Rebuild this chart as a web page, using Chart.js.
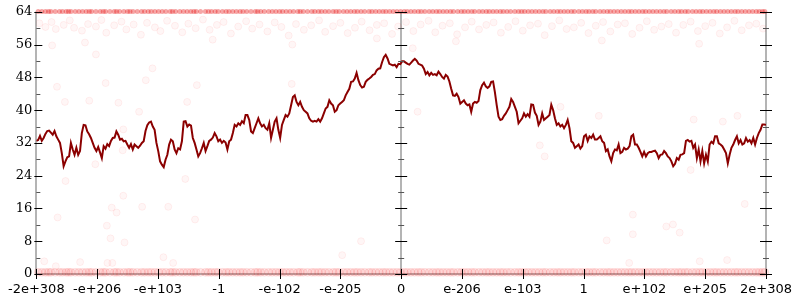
<!DOCTYPE html>
<html>
<head>
<meta charset="utf-8">
<script src="https://cdn.jsdelivr.net/npm/chart.js@4/dist/chart.umd.min.js"></script>
<style>
  html, body { margin: 0; padding: 0; background: #fff; }
  canvas { display: block; }
</style>
</head>
<body>
<canvas id="chart" width="800" height="300"></canvas>
<script>
// tick labels along the bottom, one per axis unit from -6 to 6
const xTickLabels = ["-2e+308", "-e+206", "-e+103", "-1", "-e-102", "-e-205", "0",
  "e-206", "e-103", "1", "e+102", "e+205", "2e+308"]
const yMin = 0
const yMax = 64
const yStep = 8

// the dark red trace, read left to right, evenly spaced over the axis
const lineValues = [
  32.5, 32.7, 33.7, 32.5, 33.2, 34.2, 34.9, 35.0, 34.5, 34.0, 34.9, 33.6, 32.8, 32.0, 29.5, 26.3,
  27.5, 28.5, 28.7, 32.0, 30.4, 29.1, 30.8, 29.1, 30.0, 34.4, 36.4, 36.3, 34.8, 34.1, 33.2, 32.0,
  30.8, 30.0, 31.0, 29.7, 28.3, 31.2, 30.6, 31.7, 31.2, 32.5, 33.2, 33.3, 34.8, 34.0, 32.8, 33.0,
  32.4, 32.5, 31.6, 30.8, 31.7, 30.4, 31.6, 31.2, 30.8, 31.3, 32.0, 32.4, 34.9, 36.3, 37.0, 37.2,
  36.0, 35.2, 32.0,
  30.0, 27.5, 26.7, 26.1, 27.9, 29.1, 31.6, 32.8, 32.4, 30.4, 29.5, 30.7, 30.4, 32.4, 37.2, 37.3,
  36.0, 36.5, 36.2, 33.2, 32.0, 30.4, 28.7, 29.5, 30.7, 32.0, 30.0, 31.2, 32.5, 32.8, 33.3, 34.4,
  33.6, 32.4, 32.8, 32.0, 32.5, 32.1, 30.4, 32.4, 32.8, 34.4, 36.4, 36.0, 36.8, 36.4, 37.3, 36.8,
  38.8, 38.8, 37.6, 34.8, 34.4, 35.6, 36.8, 38.0, 36.8, 36.0, 36.4, 35.6, 35.2, 36.8, 33.2, 35.2,
  37.2, 38.0, 35.2, 33.2, 36.4, 37.6, 38.8,
  38.4, 39.2, 41.2, 43.2, 43.6, 42.0, 41.2, 42.0, 40.8, 40.0, 39.6, 39.2, 38.0, 37.4, 37.2, 37.4,
  37.2, 37.8, 37.2, 38.0, 39.2, 40.4, 40.8, 42.4, 41.6, 41.2, 39.6, 40.0, 41.2, 41.6, 42.0, 42.4,
  43.6, 44.4, 45.2, 46.9, 47.0, 47.7, 49.1, 47.3, 46.1, 45.5, 45.7, 46.9, 47.4, 47.7, 48.1, 48.6,
  48.8, 49.7, 50.1, 50.2, 51.7, 52.9, 53.5, 52.6, 51.3, 51.1, 50.9, 51.1, 50.5, 51.3,
  51.2, 51.9, 51.9, 51.6, 51.3, 51.1, 51.6, 52.1, 52.5, 52.1, 51.3, 51.1, 50.9, 50.1, 48.8, 49.3,
  48.5, 49.1, 48.6, 48.8, 48.5, 49.4, 48.8, 48.1, 47.7, 48.6, 48.2, 47.0, 45.2, 43.6, 43.5, 44.0,
  43.2, 41.6, 42.0, 42.4, 41.6, 41.2, 41.4, 39.6, 41.6, 42.0, 41.8, 42.2, 44.9, 46.1, 46.7, 45.8,
  45.4, 45.8, 46.9, 47.0, 44.4, 41.2, 38.4, 37.6, 37.8, 38.6, 39.2, 40.0, 40.8, 42.7, 42.0, 40.8,
  39.6, 36.8, 37.4, 38.0, 39.2, 38.4,
  39.0, 38.4, 41.4, 41.3, 39.4, 38.6, 36.4, 37.2, 39.2, 37.6, 38.0, 38.4, 38.8, 41.3, 40.0, 38.0,
  36.4, 36.8, 36.0, 36.4, 35.6, 36.4, 37.6, 35.6, 32.4, 32.0, 30.8, 31.2, 31.6, 30.6, 31.2, 33.6,
  34.0, 32.5, 33.6, 33.2, 34.0, 32.8, 32.8, 33.2, 33.6, 32.4, 32.0, 30.0, 30.4, 28.7, 27.5, 29.5,
  30.4, 30.2, 31.6, 29.5, 29.8, 30.8, 30.4, 30.6, 31.2, 33.6, 34.0, 31.6, 31.6, 30.8, 29.8, 28.7,
  29.8, 28.7, 29.5, 29.8, 29.8,
  30.0, 30.1, 29.5, 28.3, 29.1, 29.2, 30.0, 29.5, 28.7, 28.3, 27.5, 26.3, 26.9, 28.3, 27.9, 29.1,
  29.2, 29.5, 32.5, 32.7, 32.3, 32.5, 30.8, 31.6, 28.3, 30.4, 27.5, 30.0, 27.0, 29.1, 27.5, 31.6,
  32.3, 31.9, 33.6, 33.6, 31.9, 31.6, 31.2, 30.4, 29.5, 27.0, 29.1, 30.8, 31.6, 32.7, 33.6, 31.9,
  32.7, 31.6, 31.9, 33.2, 32.3, 32.7, 31.9, 33.2, 31.6, 33.2, 34.4, 35.2, 36.5, 36.5, 36.4
]

// faint outlier dots: packed rows at the top and bottom edges...
const edgeX = [
  -5.97, -5.85, -5.76, -5.62, -5.51, -5.43, -5.30, -5.18, -5.09, -4.95, -4.86, -4.72, -4.63, -4.50,
  -4.41, -4.27, -4.16, -4.05, -3.93, -3.80, -3.71, -3.58, -3.46, -3.37, -3.22, -3.12, -3.01, -2.88,
  -2.77, -2.65, -2.54, -2.40, -2.31, -2.18, -2.06, -1.95, -1.83, -1.70, -1.61, -1.47, -1.36, -1.25,
  -1.12, -1.02, -0.89, -0.77, -0.66, -0.53, -0.42, -0.30, -0.19, -0.07, 0.05, 0.16, 0.28, 0.39,
  0.52, 0.63, 0.75, 0.86, 0.99, 1.10, 1.21, 1.34, 1.45, 1.57, 1.68, 1.80, 1.93, 2.03, 2.15, 2.27,
  2.38, 2.51, 2.62, 2.74, 2.85, 2.98, 3.09, 3.20, 3.33, 3.44, 3.56, 3.68, 3.79, 3.91, 4.02, 4.14,
  4.26, 4.37, 4.50, 4.61, 4.72, 4.85, 4.96, 5.08, 5.19, 5.31, 5.43, 5.54, 5.66, 5.78, 5.89, 5.98,
  -5.91, -5.80, -5.69, -5.57, -5.47, -5.36, -5.24, -5.13, -5.02, -4.90, -4.79, -4.68, -4.56, -4.46,
  -4.34, -4.22, -4.11, -3.99, -3.87, -3.76, -3.64, -3.52, -3.41, -3.30, -3.17, -3.06, -2.94, -2.83,
  -2.71, -2.60, -2.47, -2.36, -2.25, -2.12, -2.00, -1.89, -1.77, -1.66, -1.54, -1.42, -1.31, -1.19,
  -1.07, -0.95, -0.83, -0.72, -0.60, -0.48, -0.36, -0.25, -0.13, -0.01, 0.10, 0.22, 0.33, 0.46,
  0.58, 0.69, 0.81, 0.93, 1.04, 1.16, 1.28, 1.40, 1.51, 1.63, 1.74, 1.87, 1.98, 2.09, 2.21, 2.33,
  2.45, 2.57, 2.68, 2.80, 2.92, 3.04, 3.15, 3.27, 3.39, 3.50, 3.62, 3.74, 3.85, 3.97, 4.08, 4.20,
  4.32, 4.44, 4.56, 4.67, 4.79, 4.91, 5.02, 5.14, 5.25, 5.37, 5.49, 5.60, 5.72, 5.84, 5.94
]
const topEdgeY = 64.1
const bottomEdgeY = 0.4

// ...a loose band just under the top...
const bandDots = [
  [-5.95, 61.2], [-5.85, 60.3], [-5.75, 61.5], [-5.68, 59.8], [-5.55, 60.8], [-5.45, 61.9], [-5.38, 60.1],
  [-5.25, 59.4], [-5.15, 61.0], [-5.02, 60.4], [-4.93, 62.0], [-4.85, 58.9], [-4.72, 60.7], [-4.60, 61.6],
  [-4.52, 59.7], [-4.40, 60.9], [-4.28, 58.4], [-4.18, 61.3], [-4.05, 60.2], [-3.96, 59.3], [-3.85, 61.8],
  [-3.72, 60.6], [-3.60, 59.0], [-3.50, 61.1], [-3.38, 60.0], [-3.26, 62.1], [-3.15, 59.6], [-3.03, 60.8],
  [-2.92, 61.5], [-2.80, 58.7], [-2.68, 60.4], [-2.55, 61.7], [-2.45, 59.9], [-2.33, 60.9], [-2.20, 59.2],
  [-2.08, 61.4], [-1.97, 60.3], [-1.85, 58.2], [-1.73, 61.0], [-1.60, 59.6], [-1.48, 60.7], [-1.35, 61.9],
  [-1.25, 59.1], [-1.12, 60.5], [-1.00, 61.3], [-0.88, 58.8], [-0.76, 60.1], [-0.65, 61.6], [-0.52, 59.5],
  [-0.40, 60.8], [-0.28, 61.2], [-0.15, 58.6], [-0.05, 60.4], [0.08, 61.5], [0.20, 59.3], [0.32, 60.9],
  [0.45, 61.8], [0.56, 59.0], [0.68, 60.6], [0.80, 61.2], [0.92, 58.5], [1.05, 60.2], [1.16, 61.6],
  [1.28, 59.7], [1.40, 60.8], [1.52, 61.4], [1.64, 58.9], [1.76, 60.3], [1.88, 61.7], [2.00, 59.4],
  [2.12, 60.7], [2.25, 61.1], [2.36, 58.3], [2.48, 60.5], [2.60, 61.9], [2.72, 59.8], [2.84, 60.2],
  [2.96, 61.3], [3.08, 58.8], [3.20, 60.6], [3.32, 61.5], [3.44, 59.2], [3.56, 60.9], [3.68, 61.2],
  [3.80, 58.6], [3.92, 60.1], [4.04, 61.7], [4.16, 59.6], [4.28, 60.4], [4.40, 61.0], [4.52, 58.9],
  [4.64, 60.8], [4.76, 61.6], [4.88, 59.3], [5.00, 60.5], [5.12, 61.3], [5.24, 58.7], [5.36, 60.2],
  [5.48, 61.8], [5.60, 59.5], [5.72, 60.7], [5.84, 61.1], [5.95, 59.9]
]

// ...and a sprinkling in between
const strayDots = [
  [-5.74, 55.8], [-5.02, 53.6], [-4.86, 46.6], [-5.66, 45.7], [-3.36, 46.1], [-4.09, 50.2], [-4.20, 47.3],
  [-5.87, 3.1], [-5.65, 13.8], [-5.68, 1.9], [-5.28, 2.9], [-4.84, 11.8], [-4.76, 16.2], [-4.68, 15.0],
  [-4.78, 8.7], [-4.55, 7.7], [-4.83, 2.7], [-4.75, 2.7], [-4.26, 16.4], [-3.83, 16.4], [-3.91, 4.1],
  [-3.75, 2.7], [-3.39, 13.3], [3.38, 8.2], [3.81, 14.5], [3.81, 9.7], [4.36, 11.6], [4.47, 12.1],
  [4.58, 10.1], [4.91, 3.1], [5.36, 3.4], [5.65, 17.1], [3.75, 2.7], [-0.97, 4.6], [-0.66, 8.0],
  [-5.53, 42.0], [-5.13, 42.3], [-5.03, 26.8], [-5.52, 22.7], [-4.65, 41.8], [-4.57, 35.3], [-4.58, 30.2],
  [-4.31, 39.6], [-3.52, 42.0], [-3.55, 23.2], [-4.57, 19.1], [-1.79, 56.0], [-1.80, 46.4], [0.19, 55.1],
  [0.27, 39.6], [2.62, 40.8], [3.25, 38.6], [2.28, 31.4], [2.36, 28.7], [4.81, 37.7], [5.29, 37.2],
  [5.53, 38.6], [4.76, 25.4], [-5.2, 56.5], [-3.1, 57.2], [-0.4, 57.5], [0.9, 56.8], [3.3, 57.0], [4.9, 56.2]
]

const linePoints = lineValues.map((v, i) => ({ x: -6 + 12 * i / (lineValues.length - 1), y: v }))
const topPoints = edgeX.map(x => ({ x: x, y: topEdgeY }))
const bottomPoints = edgeX.map(x => ({ x: x, y: bottomEdgeY }))
const loosePoints = [...bandDots, ...strayDots].map(d => ({ x: d[0], y: d[1] }))

// axes are drawn by hand: three vertical spines with ticks crossing them
const axesPlugin = {
  id: "axes",
  beforeDatasetsDraw(chart) {
    const { ctx, chartArea, scales: { x, y } } = chart
    ctx.save()
    ctx.strokeStyle = "#b4b4b4"
    ctx.lineWidth = 2
    ctx.beginPath()
    for (const v of [-6, 0, 6]) {
      const px = Math.round(x.getPixelForValue(v))
      ctx.moveTo(px, chartArea.top)
      ctx.lineTo(px, chartArea.bottom)
    }
    const py0 = y.getPixelForValue(0)
    ctx.moveTo(chartArea.left, py0)
    ctx.lineTo(chartArea.right, py0)
    ctx.stroke()
    ctx.restore()
  },
  afterDatasetsDraw(chart) {
    const { ctx, scales: { x, y } } = chart
    ctx.save()
    ctx.lineWidth = 1
    const spines = [
      { px: x.getPixelForValue(-6), a: -2, b: 6, ma: 0, mb: 4 },
      { px: x.getPixelForValue(0), a: -6, b: 6, ma: -3, mb: 3 },
      { px: x.getPixelForValue(6), a: -6, b: 6, ma: -3, mb: 3 }
    ]
    for (let v = yMin; v <= yMax; v += yStep / 2) {
      const py = Math.round(y.getPixelForValue(v)) + 0.5
      const major = v % yStep === 0
      ctx.strokeStyle = major ? "#000" : "#555"
      ctx.beginPath()
      for (const s of spines) {
        ctx.moveTo(s.px + (major ? s.a : s.ma), py)
        ctx.lineTo(s.px + (major ? s.b : s.mb), py)
      }
      ctx.stroke()
    }
    const py0 = y.getPixelForValue(0)
    ctx.strokeStyle = "#000"
    ctx.beginPath()
    for (let v = -6; v <= 6; v++) {
      const px = Math.round(x.getPixelForValue(v)) + 0.5
      ctx.moveTo(px, py0 - 5)
      ctx.lineTo(px, py0 + 5)
    }
    ctx.stroke()
    ctx.restore()
  }
}

new Chart(document.getElementById("chart"), {
  type: "scatter",
  data: {
    datasets: [
      {
        type: "line",
        data: linePoints,
        borderColor: "#8b0000",
        borderWidth: 2,
        pointRadius: 0,
        tension: 0,
        fill: false
      },
      {
        data: topPoints,
        pointRadius: 2.5,
        backgroundColor: "rgba(230, 0, 0, 0.35)",
        borderWidth: 0,
        clip: false
      },
      {
        data: bottomPoints,
        pointRadius: 4,
        backgroundColor: "rgba(240, 0, 0, 0.09)",
        borderColor: "rgba(240, 0, 0, 0.08)",
        borderWidth: 1,
        clip: false
      },
      {
        data: loosePoints,
        pointRadius: 3.5,
        backgroundColor: "rgba(255, 0, 0, 0.035)",
        borderColor: "rgba(255, 0, 0, 0.06)",
        borderWidth: 1
      }
    ]
  },
  options: {
    responsive: false,
    animation: false,
    layout: { padding: { top: 9, right: 26, left: 0, bottom: 0 } },
    plugins: {
      legend: { display: false },
      tooltip: { enabled: false }
    },
    scales: {
      x: {
        type: "linear",
        min: -6,
        max: 6,
        afterFit: scale => { scale.height = 26 },
        grid: { display: false, drawTicks: false },
        border: { display: false },
        ticks: {
          stepSize: 1,
          autoSkip: false,
          maxRotation: 0,
          padding: 8,
          color: "#000",
          font: { family: "DejaVu Sans", size: 13 },
          callback: v => xTickLabels[Math.round(v) + 6]
        }
      },
      y: {
        min: yMin,
        max: yMax,
        afterFit: scale => { scale.width = 28 },
        grid: { display: false, drawTicks: false },
        border: { display: false },
        ticks: {
          stepSize: yStep,
          padding: 4,
          color: "#000",
          font: { family: "DejaVu Serif", size: 13 }
        }
      }
    }
  },
  plugins: [axesPlugin]
})
</script>
</body>
</html>
